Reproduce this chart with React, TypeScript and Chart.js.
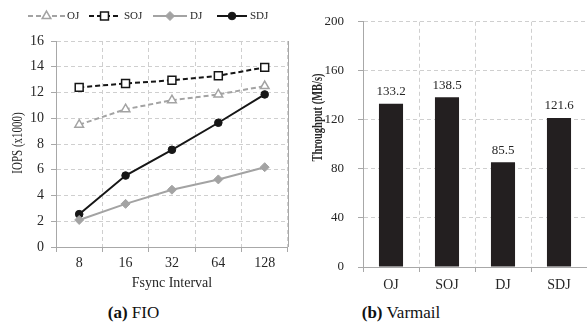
import React, { useEffect, useRef } from "react";
import { Chart, registerables } from "chart.js";
import { drawPoint } from "chart.js/helpers";

Chart.register(...registerables);

// ---- Data ----
const fsyncIntervals = ["8", "16", "32", "64", "128"];
const ojIops = [9.5, 10.7, 11.4, 11.85, 12.5];
const sojIops = [12.4, 12.7, 12.95, 13.3, 13.95];
const djIops = [2.1, 3.35, 4.45, 5.25, 6.2];
const sdjIops = [2.55, 5.55, 7.55, 9.65, 11.85];
const iopsTicks = { min: 0, max: 16, step: 2 };

const journalModes = ["OJ", "SOJ", "DJ", "SDJ"];
const varmailThroughput = [133.2, 138.5, 85.5, 121.6];
const throughputTicks = { min: 0, max: 200, step: 40 };

// ---- Styles ----
const serif = "'Liberation Serif', 'Times New Roman', serif";
const gridColor = "#cfcfcf";
const axisColor = "#a8a8a8";
const textColor = "#262626";
const lightLine = "#a3a3a3";
const darkLine = "#161616";

const legendPlugin = {
  id: "lineLegend",
  afterDraw(chart: any) {
    const ctx = chart.ctx;
    const lines = [
      [28, 65, 67],
      [89, 120, 124],
      [153, 187, 190],
      [217, 247, 250],
    ];
    const y = 16;
    chart.data.datasets.forEach((ds: any, i: number) => {
      const [x0, x1, tx] = lines[i];
      ctx.save();
      ctx.strokeStyle = ds.borderColor;
      ctx.lineWidth = 2;
      ctx.setLineDash(ds.borderDash || []);
      ctx.beginPath();
      ctx.moveTo(x0, y);
      ctx.lineTo(x1, y);
      ctx.stroke();
      ctx.setLineDash([]);
      ctx.fillStyle = ds.pointBackgroundColor;
      ctx.strokeStyle = ds.pointBorderColor;
      ctx.lineWidth = ds.pointBorderWidth;
      drawPoint(ctx, { pointStyle: ds.pointStyle, radius: ds.pointRadius, borderWidth: ds.pointBorderWidth, rotation: 0 }, (x0 + x1) / 2, y);
      ctx.fillStyle = textColor;
      ctx.font = `11px ${serif}`;
      ctx.textBaseline = "middle";
      ctx.textAlign = "left";
      ctx.fillText(ds.label, tx, y + 0.5);
      ctx.restore();
    });
  },
};

function yTitlePlugin(text: string, font: string, x: number, y: number, stretch: number) {
  return {
    id: "yTitle",
    afterDraw(chart: any) {
      const ctx = chart.ctx;
      ctx.save();
      ctx.translate(x, y);
      ctx.rotate(-Math.PI / 2);
      ctx.scale(1, stretch);
      ctx.font = font;
      ctx.fillStyle = textColor;
      ctx.textAlign = "center";
      ctx.textBaseline = "middle";
      ctx.fillText(text, 0, 0);
      ctx.restore();
    },
  };
}

const rightBorderPlugin = {
  id: "rightBorder",
  beforeDatasetsDraw(chart: any) {
    const { ctx, chartArea } = chart;
    ctx.save();
    ctx.strokeStyle = axisColor;
    ctx.lineWidth = 1;
    ctx.beginPath();
    ctx.moveTo(Math.round(chartArea.right) + 0.5, chartArea.top);
    ctx.lineTo(Math.round(chartArea.right) + 0.5, chartArea.bottom);
    ctx.stroke();
    ctx.restore();
  },
};

const barLabelPlugin = {
  id: "barLabels",
  afterDatasetsDraw(chart: any) {
    const ctx = chart.ctx;
    const meta = chart.getDatasetMeta(0);
    const values = chart.data.datasets[0].data;
    ctx.save();
    ctx.font = `13px ${serif}`;
    ctx.fillStyle = textColor;
    ctx.textAlign = "center";
    ctx.textBaseline = "middle";
    meta.data.forEach((bar: any, i: number) => {
      ctx.fillText(Number(values[i]).toFixed(1), bar.x, bar.y - 12);
    });
    ctx.restore();
  },
};

function FioChart() {
  const ref = useRef<HTMLCanvasElement>(null);
  useEffect(() => {
    const chart = new Chart(ref.current!, {
      type: "line",
      data: {
        labels: fsyncIntervals,
        datasets: [
          {
            label: "OJ",
            data: ojIops,
            borderColor: lightLine,
            borderDash: [5, 3],
            borderWidth: 2,
            pointStyle: "triangle",
            pointRadius: 5,
            pointBackgroundColor: "#ffffff",
            pointBorderColor: lightLine,
            pointBorderWidth: 1.5,
          },
          {
            label: "SOJ",
            data: sojIops,
            borderColor: darkLine,
            borderDash: [5, 3],
            borderWidth: 2,
            pointStyle: "rect",
            pointRadius: 5.6,
            pointBackgroundColor: "#ffffff",
            pointBorderColor: darkLine,
            pointBorderWidth: 1.5,
          },
          {
            label: "DJ",
            data: djIops,
            borderColor: lightLine,
            borderWidth: 2,
            pointStyle: "rectRot",
            pointRadius: 4.5,
            pointBackgroundColor: lightLine,
            pointBorderColor: lightLine,
            pointBorderWidth: 1,
          },
          {
            label: "SDJ",
            data: sdjIops,
            borderColor: darkLine,
            borderWidth: 2,
            pointStyle: "circle",
            pointRadius: 3.8,
            pointBackgroundColor: darkLine,
            pointBorderColor: darkLine,
            pointBorderWidth: 1,
          },
        ],
      } as any,
      options: {
        animation: false,
        responsive: false,
        maintainAspectRatio: false,
        layout: { padding: { top: 41, right: 6.5, left: 0, bottom: 0 } },
        plugins: { legend: { display: false }, tooltip: { enabled: false } },
        scales: {
          x: {
            offset: true,
            grid: { offset: true, color: gridColor, tickColor: axisColor, tickLength: 5 },
            border: { color: axisColor, dash: [4, 3] },
            ticks: { color: textColor, font: { family: serif, size: 14 }, padding: 2.5, maxRotation: 0 },
            title: {
              display: true,
              text: "Fsync Interval",
              color: textColor,
              font: { family: serif, size: 14 },
              padding: { top: 0, bottom: 8.6 },
            },
            afterFit: (s: any) => {
              s.height = 53;
            },
          },
          y: {
            min: iopsTicks.min,
            max: iopsTicks.max,
            grid: { color: gridColor, tickColor: axisColor, tickLength: 5 },
            border: { color: axisColor, dash: [4, 3] },
            ticks: { stepSize: iopsTicks.step, color: textColor, font: { family: serif, size: 14 }, padding: 7 },
            afterFit: (s: any) => {
              s.width = 56;
            },
          },
        },
      } as any,
      plugins: [legendPlugin, rightBorderPlugin, yTitlePlugin("IOPS (x1000)", `11px ${serif}`, 18, 143, 1.3)],
    });
    return () => chart.destroy();
  }, []);
  return <canvas ref={ref} width={295} height={300} style={{ position: "absolute", left: 0, top: 0, width: 295, height: 300 }} />;
}

function VarmailChart() {
  const ref = useRef<HTMLCanvasElement>(null);
  useEffect(() => {
    const chart = new Chart(ref.current!, {
      type: "bar",
      data: {
        labels: journalModes,
        datasets: [
          {
            label: "Throughput",
            data: varmailThroughput,
            backgroundColor: "#231f20",
            borderWidth: 0,
            barPercentage: 0.43,
            categoryPercentage: 1,
          },
        ],
      },
      options: {
        animation: false,
        responsive: false,
        maintainAspectRatio: false,
        layout: { padding: { top: 6, right: 0, left: 0, bottom: 0 } },
        plugins: { legend: { display: false }, tooltip: { enabled: false } },
        scales: {
          x: {
            offset: true,
            grid: { offset: true, color: gridColor, tickColor: axisColor, tickLength: 5 },
            border: { color: axisColor, dash: [4, 3] },
            ticks: { color: textColor, font: { family: serif, size: 14 }, padding: 4.6, maxRotation: 0 },
            afterFit: (s: any) => {
              s.height = 33;
            },
          },
          y: {
            min: throughputTicks.min,
            max: throughputTicks.max,
            grid: { color: gridColor, tickColor: axisColor, tickLength: 5 },
            border: { color: axisColor, dash: [4, 3] },
            ticks: { stepSize: throughputTicks.step, color: textColor, font: { family: serif, size: 13 }, padding: 14 },
            afterFit: (s: any) => {
              s.width = 68;
            },
          },
        },
      } as any,
      plugins: [barLabelPlugin, yTitlePlugin("Throughput (MB/s)", `bold 10.5px ${serif}`, 23, 117.5, 1.3)],
    });
    return () => chart.destroy();
  }, []);
  return <canvas ref={ref} width={292} height={300} style={{ position: "absolute", left: 295, top: 0, width: 292, height: 300 }} />;
}

export default function App() {
  const caption: React.CSSProperties = {
    position: "absolute",
    top: 303,
    transform: "translateX(-50%)",
    fontFamily: serif,
    fontSize: 17,
    lineHeight: "20px",
    color: "#111",
    whiteSpace: "nowrap",
  };
  return (
    <div style={{ position: "fixed", left: 0, top: 0, width: 587, height: 334, background: "#fff", overflow: "hidden" }}>
      <FioChart />
      <VarmailChart />
      <div style={{ ...caption, left: 133.5 }}>
        <b>(a)</b> FIO
      </div>
      <div style={{ ...caption, left: 401 }}>
        <b>(b)</b> Varmail
      </div>
    </div>
  );
}
